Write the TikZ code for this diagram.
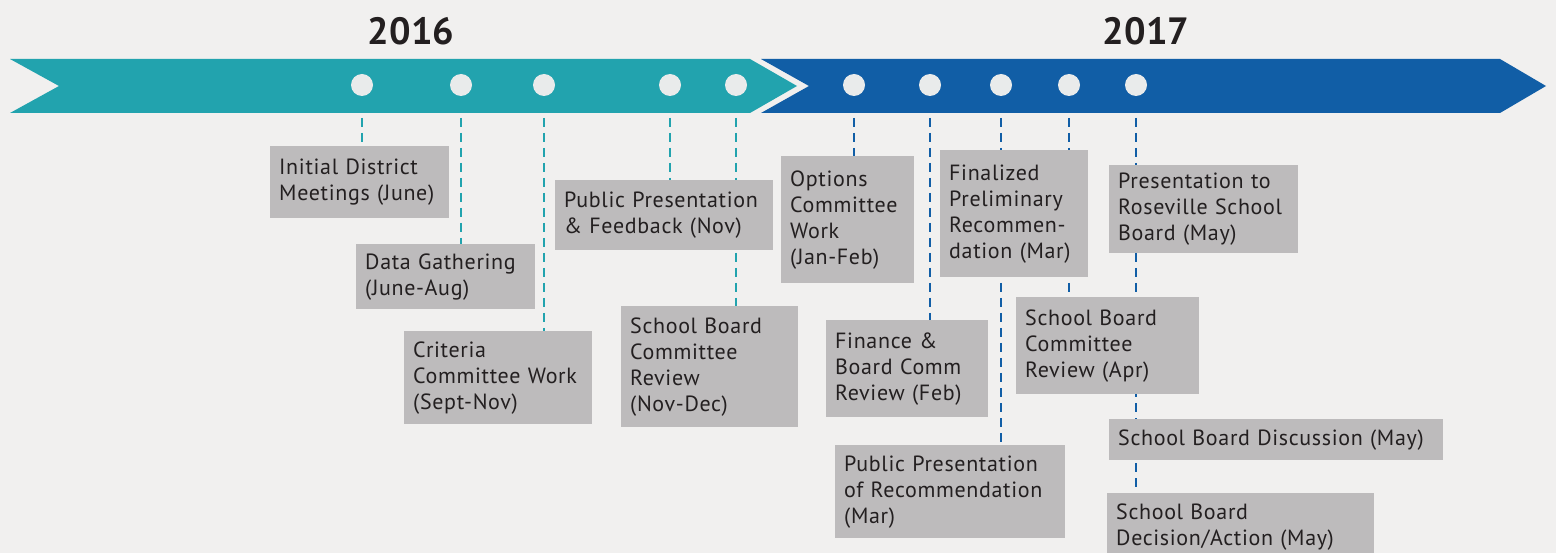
\documentclass[tikz,border=0pt]{standalone}
\usepackage{fontspec}
\setmainfont{PT Sans}
\newfontfamily\boxfont{PT Sans}[LetterSpace=3]
\usetikzlibrary{positioning}

\definecolor{bgcol}{HTML}{F1F0EF}
\definecolor{tealband}{HTML}{22A3AE}
\definecolor{blueband}{HTML}{115EA6}
\definecolor{dotcol}{HTML}{E9EBEB}
\definecolor{boxcol}{HTML}{BDBBBC}
\definecolor{ink}{HTML}{231F20}

\pgfdeclarelayer{back}
\pgfsetlayers{back,main}

\tikzset{
  box/.style={fill=boxcol, text=ink, align=left, anchor=north west,
    inner xsep=9pt, inner ysep=0pt, font=\boxfont\fontsize{22}{26}\selectfont},
  dot/.style={circle, fill=dotcol, minimum size=22pt, inner sep=0pt},
  year/.style={text=ink, font=\fontsize{38}{40}\selectfont\bfseries},
  tdash/.style={draw=tealband, line width=2.2pt, dash pattern=on 9pt off 6pt},
  bdash/.style={draw=blueband, line width=2.2pt, dash pattern=on 9pt off 6pt}
}

\begin{document}
\begin{tikzpicture}[x=1pt, y=-1pt]
  \useasboundingbox (0,0) rectangle (1556,553);
  % years
  \node[year] (y2016) at (411,31) {2016};
  \node[year] (y2017) at (1146,31) {2017};
  % dots on the bands
  \node[dot] (d1) at (362,85) {};
  \node[dot] (d2) at (461,85) {};
  \node[dot] (d3) at (544,85) {};
  \node[dot] (d4) at (670,85) {};
  \node[dot] (d5) at (736,85) {};
  \node[dot] (d6) at (854,85) {};
  \node[dot] (d7) at (930,85) {};
  \node[dot] (d8) at (1001,85) {};
  \node[dot] (d9) at (1069,85) {};
  \node[dot] (d10) at (1136,85) {};
  % 2016 boxes
  \node[box, text width=161pt, minimum height=72pt] (meet) at (270,146)
    {Initial District\\Meetings (June)};
  \node[box, text width=161pt, minimum height=65pt] (data) at (356,244)
    {Data Gathering\\(June-Aug)};
  \node[box, text width=170pt, minimum height=93pt] (crit) at (404,331)
    {Criteria\\Committee Work\\(Sept-Nov)};
  \node[box, text width=200pt, minimum height=70pt] (pubfb) at (555,180)
    {Public Presentation\\\& Feedback (Nov)};
  \node[box, text width=159pt, minimum height=121pt] (sbnov) at (621,306)
    {School Board\\Committee\\Review\\(Nov-Dec)};
  % 2017 boxes
  \node[box, text width=115pt, minimum height=127pt] (opts) at (781,156)
    {Options\\Committee\\Work\\(Jan-Feb)};
  \node[box, text width=144pt, minimum height=97pt] (fin) at (826,320)
    {Finance \&\\Board Comm\\Review (Feb)};
  \node[box, text width=130pt, minimum height=127pt] (final) at (940,150)
    {Finalized\\Preliminary\\Recommen-\\dation (Mar)};
  \node[box, text width=212pt, minimum height=93pt] (pubrec) at (835,445)
    {Public Presentation\\of Recommendation\\(Mar)};
  \node[box, text width=165pt, minimum height=97pt] (sbapr) at (1016,297)
    {School Board\\Committee\\Review (Apr)};
  \node[box, text width=171pt, minimum height=88pt] (rose) at (1109,165)
    {Presentation to\\Roseville School\\Board (May)};
  \node[box, text width=316pt, minimum height=41pt] (disc) at (1109,419)
    {School Board Discussion (May)};
  \node[box, text width=249pt, minimum height=67pt] (dec) at (1107,493)
    {School Board\\Decision/Action (May)};

  \begin{pgfonlayer}{back}
    \fill[bgcol] (0,0) rectangle (1556,553);
    % the two bands
    \fill[tealband] (10,59) -- (750,59) -- (797,86) -- (750,113)
      -- (10,113) -- (59,86) -- cycle;
    \fill[blueband] (761,59) -- (1500,59) -- (1546,86) -- (1500,113)
      -- (761,113) -- (809,86) -- cycle;
    % dashed leaders
    \coordinate (lt) at (0,118);
    \draw[tdash] (d1 |- lt) -- (d1 |- meet.north);
    \draw[tdash] (d2 |- lt) -- (d2 |- data.north);
    \draw[tdash] (d3 |- lt) -- (d3 |- crit.north);
    \draw[tdash] (d4 |- lt) -- (d4 |- pubfb.north);
    \draw[tdash] (d5 |- lt) -- (d5 |- sbnov.north);
    \draw[bdash] (d6 |- lt) -- (d6 |- opts.north);
    \draw[bdash] (d7 |- lt) -- (d7 |- fin.north);
    \draw[bdash] (d8 |- lt) -- (d8 |- pubrec.north);
    \draw[bdash] (d9 |- lt) -- (d9 |- sbapr.north);
    \draw[bdash] (d10 |- lt) -- (d10 |- dec.north);
  \end{pgfonlayer}
\end{tikzpicture}
\end{document}
